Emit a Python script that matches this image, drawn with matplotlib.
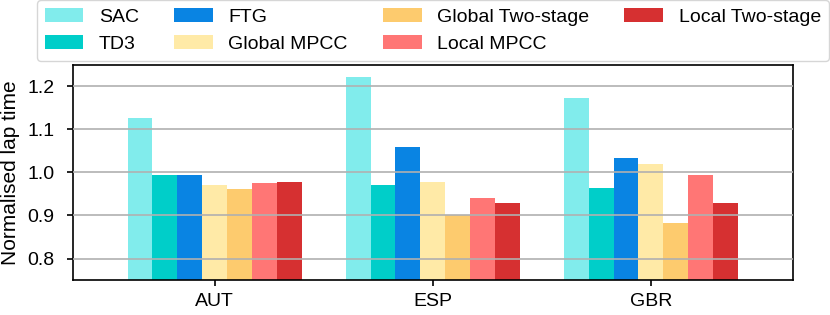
import numpy as np
import matplotlib.pyplot as plt

plt.rcParams['font.family'] = ['Liberation Sans', 'DejaVu Sans']

tracks = ["AUT", "ESP", "GBR"]
methods = ["SAC", "TD3", "FTG", "Global MPCC", "Global Two-stage", "Local MPCC", "Local Two-stage"]
colors = ["#81ecec", "#00cec9", "#0984e3", "#ffeaa7", "#fdcb6e", "#ff7675", "#d63031"]

sac = [1.126, 1.223, 1.173]
td3 = [0.994, 0.970, 0.965]
ftg = [0.993, 1.059, 1.033]
global_mpcc = [0.970, 0.978, 1.020]
global_two_stage = [0.962, 0.900, 0.882]
local_mpcc = [0.976, 0.941, 0.994]
local_two_stage = [0.978, 0.928, 0.930]

values = [sac, td3, ftg, global_mpcc, global_two_stage, local_mpcc, local_two_stage]

fig = plt.figure(figsize=(8.3, 3.15), dpi=100)
ax = fig.add_axes([0.088, 0.111, 0.867, 0.683])

x = np.arange(len(tracks))
w = 0.8 / len(methods)
for i, (name, vals) in enumerate(zip(methods, values)):
    ax.bar(x + (i - 3) * w, vals, w, label=name, color=colors[i])

ax.set_xticks(x)
ax.set_xticklabels(tracks, fontsize=14)
ax.set_xlim(-0.65, 2.65)
ax.set_ylim(0.75, 1.25)
ax.set_yticks([0.8, 0.9, 1.0, 1.1, 1.2])
ax.tick_params(axis='both', length=4.5, width=1.2, color='black', labelsize=14)
ax.tick_params(axis='y', pad=9)
ax.tick_params(axis='x', pad=4.5)
ax.set_ylabel("Normalised lap time", fontsize=15, labelpad=5)
ax.set_axisbelow(False)
ax.grid(axis='y', color='#b0b0b0', linewidth=1.2)
for s in ax.spines.values():
    s.set_color('black')
    s.set_linewidth(1.2)

ax.legend(ncol=4, loc='lower center', bbox_to_anchor=(0.5, 1.019), fontsize=14,
          borderaxespad=0.0, columnspacing=1.8)

fig.savefig("out.png")
